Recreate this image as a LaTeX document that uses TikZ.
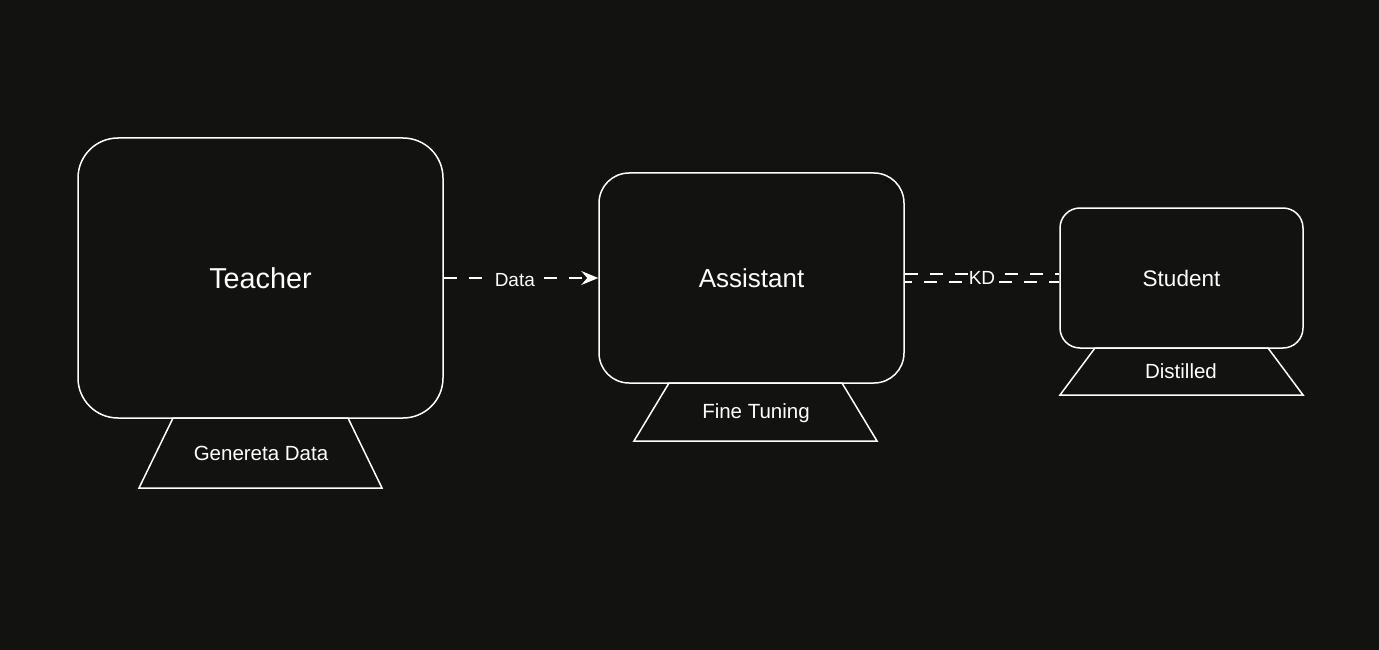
\documentclass[tikz,border=0pt]{standalone}
\usepackage{fontspec}
\setmainfont{Liberation Sans}
\usetikzlibrary{arrows.meta,calc}
\definecolor{bgdark}{RGB}{18,18,17}
\tikzset{
  modelbox/.style={draw=white,line width=1.5pt,fill=bgdark,text=white,inner sep=0pt},
  stand/.style={draw=white,line width=1.5pt,fill=bgdark,line join=miter},
  standlabel/.style={text=white,font=\fontsize{20.5}{24}\selectfont,inner sep=0pt},
  flow/.style={draw=white,line width=1.5pt,dash pattern=on 13pt off 12pt},
  edgelabel/.style={fill=bgdark,text=white,font=\fontsize{19}{23}\selectfont,inner sep=1pt}
}
\begin{document}
\begin{tikzpicture}[x=1pt,y=-1pt]
	\fill[bgdark] (0,0) rectangle (1379,650);
	\useasboundingbox (0,0) rectangle (1379,650);

	% les trois modeles
	\node[modelbox,rounded corners=40pt,minimum width=365pt,minimum height=280pt,
	      font=\fontsize{28.8}{33}\selectfont] (teacher) at (260.5,278) {Teacher};
	\node[modelbox,rounded corners=30pt,minimum width=305pt,minimum height=210pt,
	      font=\fontsize{26}{31}\selectfont] (assistant) at (751.5,278) {Assistant};
	\node[modelbox,rounded corners=20pt,minimum width=243pt,minimum height=140pt,
	      font=\fontsize{22.5}{27}\selectfont] (student) at (1181.5,278) {Student};

	% les socles
	\draw[stand] (173,418) -- (348,418) -- (382,488) -- (139,488) -- cycle;
	\node[standlabel] (gen) at (261,453) {Genereta Data};

	\draw[stand] (669,383) -- (842,383) -- (877,441) -- (634,441) -- cycle;
	\node[standlabel] (fine) at (756,413) {Fine Tuning};

	\draw[stand] (1095,348) -- (1268,348) -- (1303,395) -- (1060,395) -- cycle;
	\node[standlabel] (distilled) at (1181,371) {Distilled};

	% donnees du teacher vers l'assistant
	\draw[flow,-{Stealth[length=17pt,width=14pt,inset=6pt]}] (teacher.east) -- (assistant.west)
		node[edgelabel,pos=0.46,yshift=-2pt] (datalabel) {Data};

	% KD : double trait
	\draw[flow] ([yshift=4pt]assistant.east) -- ([yshift=4pt]student.west);
	\draw[flow,dash phase=6pt] ([yshift=-4pt]assistant.east) -- ([yshift=-4pt]student.west);
	\node[edgelabel] (kdlabel) at ($(assistant.east)!0.5!(student.west)$) {KD};

\end{tikzpicture}
\end{document}
